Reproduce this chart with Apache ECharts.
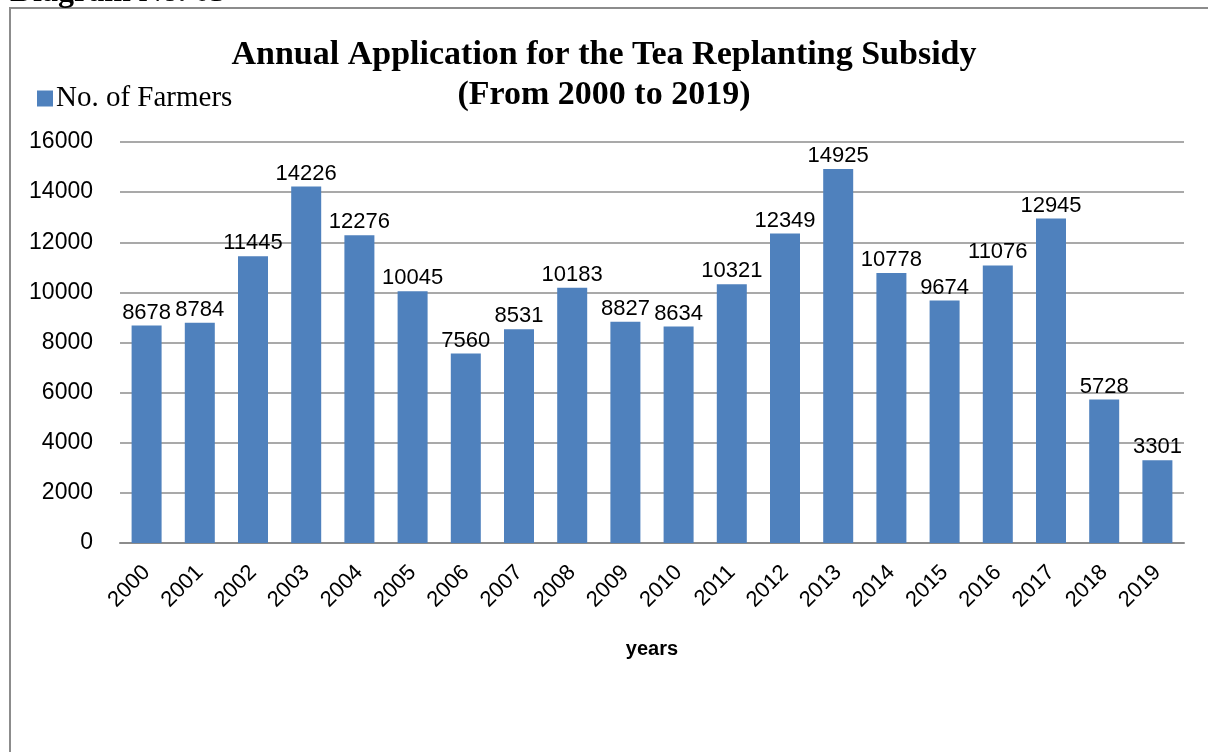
<!DOCTYPE html>
<html>
<head>
<meta charset="utf-8">
<script src="https://cdn.jsdelivr.net/npm/echarts@6/dist/echarts.min.js"></script>
<style>
  html, body { margin: 0; padding: 0; background: #fff; }
  #container { width: 1208px; height: 752px; }
</style>
</head>
<body>
<div id="container"></div>
<script>
var years = ['2000', '2001', '2002', '2003', '2004', '2005', '2006', '2007', '2008', '2009',
    '2010', '2011', '2012', '2013', '2014', '2015', '2016', '2017', '2018', '2019'];
var farmers = [8678, 8784, 11445, 14226, 12276, 10045, 7560, 8531, 10183, 8827,
    8634, 10321, 12349, 14925, 10778, 9674, 11076, 12945, 5728, 3301];
var yTicks = [0, 16000, 2000];

var myChart = echarts.init(document.getElementById('container'));

var option = {
    backgroundColor: '#fff',
    animation: false,
    title: {
        text: 'Annual Application for the Tea Replanting Subsidy\n(From 2000 to 2019)',
        left: 'center',
        top: 30,
        textStyle: {
            fontFamily: 'Liberation Serif',
            fontWeight: 'bold',
            fontSize: 34,
            lineHeight: 40,
            color: '#000'
        }
    },
    legend: {
        left: 32,
        top: 79,
        itemWidth: 16,
        itemHeight: 16,
        itemGap: 6,
        icon: 'rect',
        textStyle: {
            fontFamily: 'Liberation Serif',
            fontSize: 29,
            color: '#000',
            padding: [0, 0, 0, -2]
        },
        data: ['No. of Farmers']
    },
    graphic: [
        {
            type: 'rect',
            shape: { x: 10, y: 8, width: 1400, height: 900 },
            style: { fill: 'none', stroke: '#8c8c8c', lineWidth: 2 },
            silent: true
        },
        {
            type: 'text',
            x: 10,
            y: -7,
            style: {
                text: 'Diagram No. 03',
                fontFamily: 'Liberation Serif',
                fontWeight: 'bold',
                fontSize: 32,
                verticalAlign: 'middle',
                fill: '#000'
            }
        }
    ],
    grid: {
        left: 120,
        right: 24,
        top: 142,
        bottom: 209
    },
    xAxis: {
        type: 'category',
        data: years,
        name: 'years',
        nameLocation: 'middle',
        nameGap: 96,
        nameTextStyle: {
            fontFamily: 'Liberation Sans',
            fontWeight: 'bold',
            fontSize: 20,
            color: '#000'
        },
        axisTick: { show: false },
        axisLine: { lineStyle: { color: '#8c8c8c', width: 2 } },
        axisLabel: {
            rotate: 45,
            margin: 26,
            interval: 0,
            fontFamily: 'Liberation Sans',
            fontSize: 22,
            color: '#000'
        }
    },
    yAxis: {
        type: 'value',
        min: yTicks[0],
        max: yTicks[1],
        interval: yTicks[2],
        axisLine: { show: false },
        axisTick: { show: false },
        splitLine: { lineStyle: { color: '#8c8c8c', width: 1.5 } },
        axisLabel: {
            margin: 27,
            fontFamily: 'Liberation Sans',
            fontSize: 23,
            color: '#000',
            formatter: function (v) { return String(v); }
        }
    },
    series: [
        {
            name: 'No. of Farmers',
            type: 'bar',
            data: farmers,
            barWidth: 30,
            itemStyle: { color: '#4f81bd' },
            label: {
                show: true,
                position: 'top',
                distance: 2,
                fontFamily: 'Liberation Sans',
                fontSize: 22,
                color: '#000'
            }
        }
    ]
};

myChart.setOption(option);
</script>
</body>
</html>
